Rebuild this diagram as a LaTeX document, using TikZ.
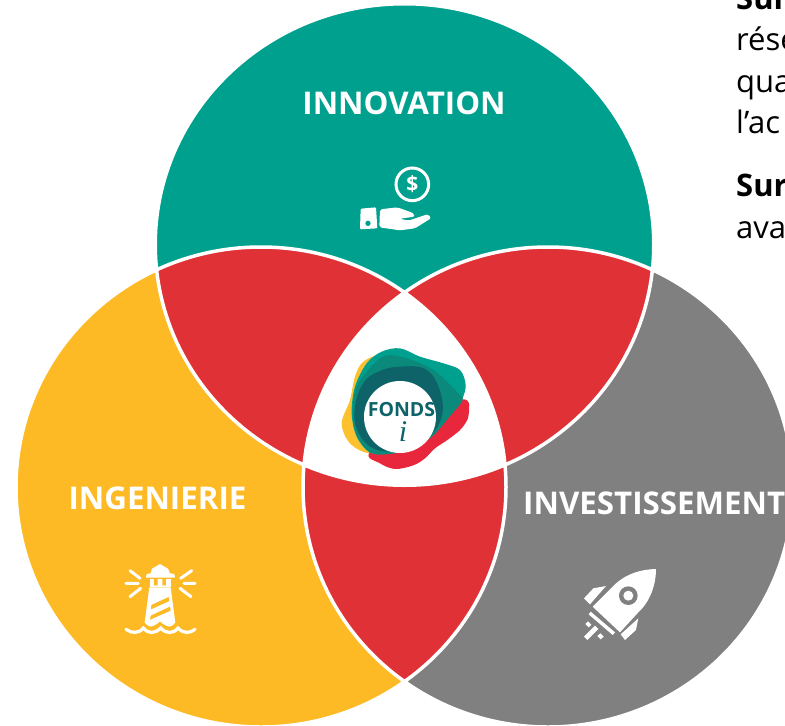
\documentclass[tikz,border=0pt]{standalone}
\usepackage{fontspec}
\setmainfont{Open Sans}
\definecolor{teal1}{HTML}{00A08E}
\definecolor{yel1}{HTML}{FDBA25}
\definecolor{gray1}{HTML}{808080}
\definecolor{red1}{HTML}{E03236}
\definecolor{logoteal}{HTML}{00A08E}
\definecolor{logomid}{HTML}{0B8A7B}
\definecolor{logodark}{HTML}{0E6368}
\definecolor{logoyel}{HTML}{FDC02F}
\definecolor{logored}{HTML}{E8263C}
\tikzset{
  title/.style={font=\fontsize{31.3}{31}\selectfont\bfseries,text=white,inner sep=0pt},
  body/.style={font=\fontsize{31}{31}\selectfont,text=black,anchor=base west,inner sep=0pt},
  bodyb/.style={body,font=\fontsize{31}{31}\selectfont\bfseries},
  ray/.style={draw=white,line width=3pt,line cap=round},
  iconscope/.style={x=0.3333pt,y=-0.3333pt},
}
\def\ctop{(404.5,244.5) ellipse [x radius=249.25,y radius=240.75]}
\def\cleft{(261,487) ellipse [x radius=245,y radius=240]}
\def\cright{(548,487) ellipse [x radius=245,y radius=240]}
\begin{document}
\begin{tikzpicture}[x=1pt,y=-1pt]
\useasboundingbox (0,0) rectangle (785,726);
\clip (0,0) rectangle (785,726);
% circles
\fill[gray1] \cright;
\fill[yel1] \cleft;
\fill[teal1] \ctop;
\begin{scope}\clip \ctop; \fill[red1] \cleft; \fill[red1] \cright; \end{scope}
\begin{scope}\clip \cleft; \fill[red1] \cright; \end{scope}
\begin{scope}\clip \ctop; \clip \cleft; \fill[white] \cright; \end{scope}
\draw[white,line width=3.5pt] \ctop \cleft \cright;
% logo
\begin{scope}[shift={(320,320)},iconscope]
\fill[logoyel] plot[smooth cycle,tension=0.55] coordinates {(185,112)(130,125)(105,170)(90,240)(65,310)(90,370)(150,400)(240,380)(260,200)};
\fill[logored] plot[smooth cycle,tension=0.55] coordinates {(428,238)(446,285)(425,325)(385,358)(345,385)(315,415)(280,436)(225,447)(180,430)(148,398)(260,300)};
\fill[logoteal] plot[smooth cycle,tension=0.55] coordinates {(185,95)(240,85)(300,110)(370,130)(420,150)(437,195)(425,240)(388,290)(335,350)(270,388)(205,402)(150,398)(110,350)(95,280)(105,200)(140,130)};
\fill[logomid] plot[smooth cycle,tension=0.55] coordinates {(185,112)(250,112)(340,150)(410,215)(428,240)(388,290)(335,350)(270,388)(205,402)(150,396)(110,345)(98,270)(115,190)};
\fill[logodark] plot[smooth cycle,tension=0.7] coordinates {(240,140)(320,150)(362,220)(362,300)(310,365)(240,392)(160,385)(112,330)(105,260)(130,190)(175,155)};
\fill[white] (240,291) circle (108);
\end{scope}
\node[font=\fontsize{19.5}{19}\selectfont\bfseries,text=logodark,inner sep=0pt] (fonds) at (401.5,410) {FONDS};
\node[font=\fontsize{30}{30}\selectfont,text=logodark,inner sep=0pt,anchor=base] (ilogo) at (403,441) {\fontspec{Liberation Serif}\itshape i};
% titles
\node[title] (innovation) at (404,103) {INNOVATION};
\node[title] (ingenierie) at (157.5,498) {INGENIERIE};
\node[title,anchor=west] (invest) at (523,503) {INVESTISSEMENT};
% hand icon
\begin{scope}[shift={(340,150)},iconscope]
\draw[white,line width=3pt] (217,103) circle (49);
\node[font=\fontsize{21}{21}\selectfont\bfseries,text=white,inner sep=0pt] (dollar) at (217,103) {\$};
\fill[white,rounded corners=1pt] (62,176)--(108,172)--(112,235)--(60,238)--cycle;
\fill[teal1] (84,220) circle (8);
\fill[white,rounded corners=2pt] (120,178)--(172,172)--(222,190)--(224,200)--(180,206)--(205,212)--(265,192)--(273,205)--(225,235)--(180,241)--(118,232)--cycle;
\end{scope}
% lighthouse icon
\begin{scope}[shift={(110,550)},iconscope]
\fill[white] (108,83)--(110,72)--(122,70)--(126,56)--(150,42)--(174,56)--(180,70)--(193,72)--(195,83)--cycle;
\fill[white] (120,86)--(184,86)--(184,110)--(120,110)--cycle;
\fill[yel1] (132,86) rectangle (143,106) (157,86) rectangle (168,106);
\fill[white] (118,112)--(182,112)--(196,218) .. controls (190,226) and (182,230) .. (178,230) .. controls (170,228) and (160,224) .. (150,214) .. controls (140,224) and (130,228) .. (122,230) .. controls (116,228) and (108,224) .. (104,218)--cycle;
\fill[yel1] (124,165)--(176,141)--(178,153)--(123,178)--cycle (122,197)--(180,170)--(182,182)--(120,209)--cycle;
\draw[ray] (60,62)--(90,85) (48,100)--(85,100) (60,140)--(92,115) (245,62)--(212,85) (255,100)--(222,100) (243,140)--(210,115);
\draw[white,line width=3.2pt,line cap=round] (48,238) .. controls (65,250) and (85,252) .. (100,234) .. controls (115,252) and (135,252) .. (152,234) .. controls (168,252) and (190,252) .. (204,234) .. controls (220,252) and (240,250) .. (255,238);
\end{scope}
% rocket icon
\begin{scope}[shift={(570,555)},iconscope]
\fill[white] (68,155)--(135,88) .. controls (170,55) and (215,43) .. (258,42) .. controls (258,90) and (240,140) .. (205,172)--(150,232)--cycle;
\fill[gray1] (175,122) circle (28);
\fill[white] (175,122) circle (15);
\fill[white] (42,130)--(70,100)--(108,93)--(60,148)--cycle;
\fill[white] (152,238)--(205,190)--(198,225)--(165,255)--cycle;
\fill[white] (62,170)--(135,232)--(128,240)--(56,178)--cycle;
\fill[white] (42,245)--(75,212)--(85,222)--(52,255)--cycle;
\fill[white] (46,207)--(54,199)--(64,209)--(56,217)--cycle;
\fill[white] (82,243)--(91,235)--(101,245)--(92,253)--cycle;
\end{scope}
% clipped paragraph text
\node[bodyb] (t1) at (736,9.5) {Sur};
\node[body] (t2) at (736,50) {rése};
\node[body] (t3) at (736,92) {qua};
\node[body] (t4) at (736,133) {l’ac};
\node[bodyb] (t5) at (736,196) {Sur};
\node[body] (t6) at (736,238) {ava};
\end{tikzpicture}
\end{document}
